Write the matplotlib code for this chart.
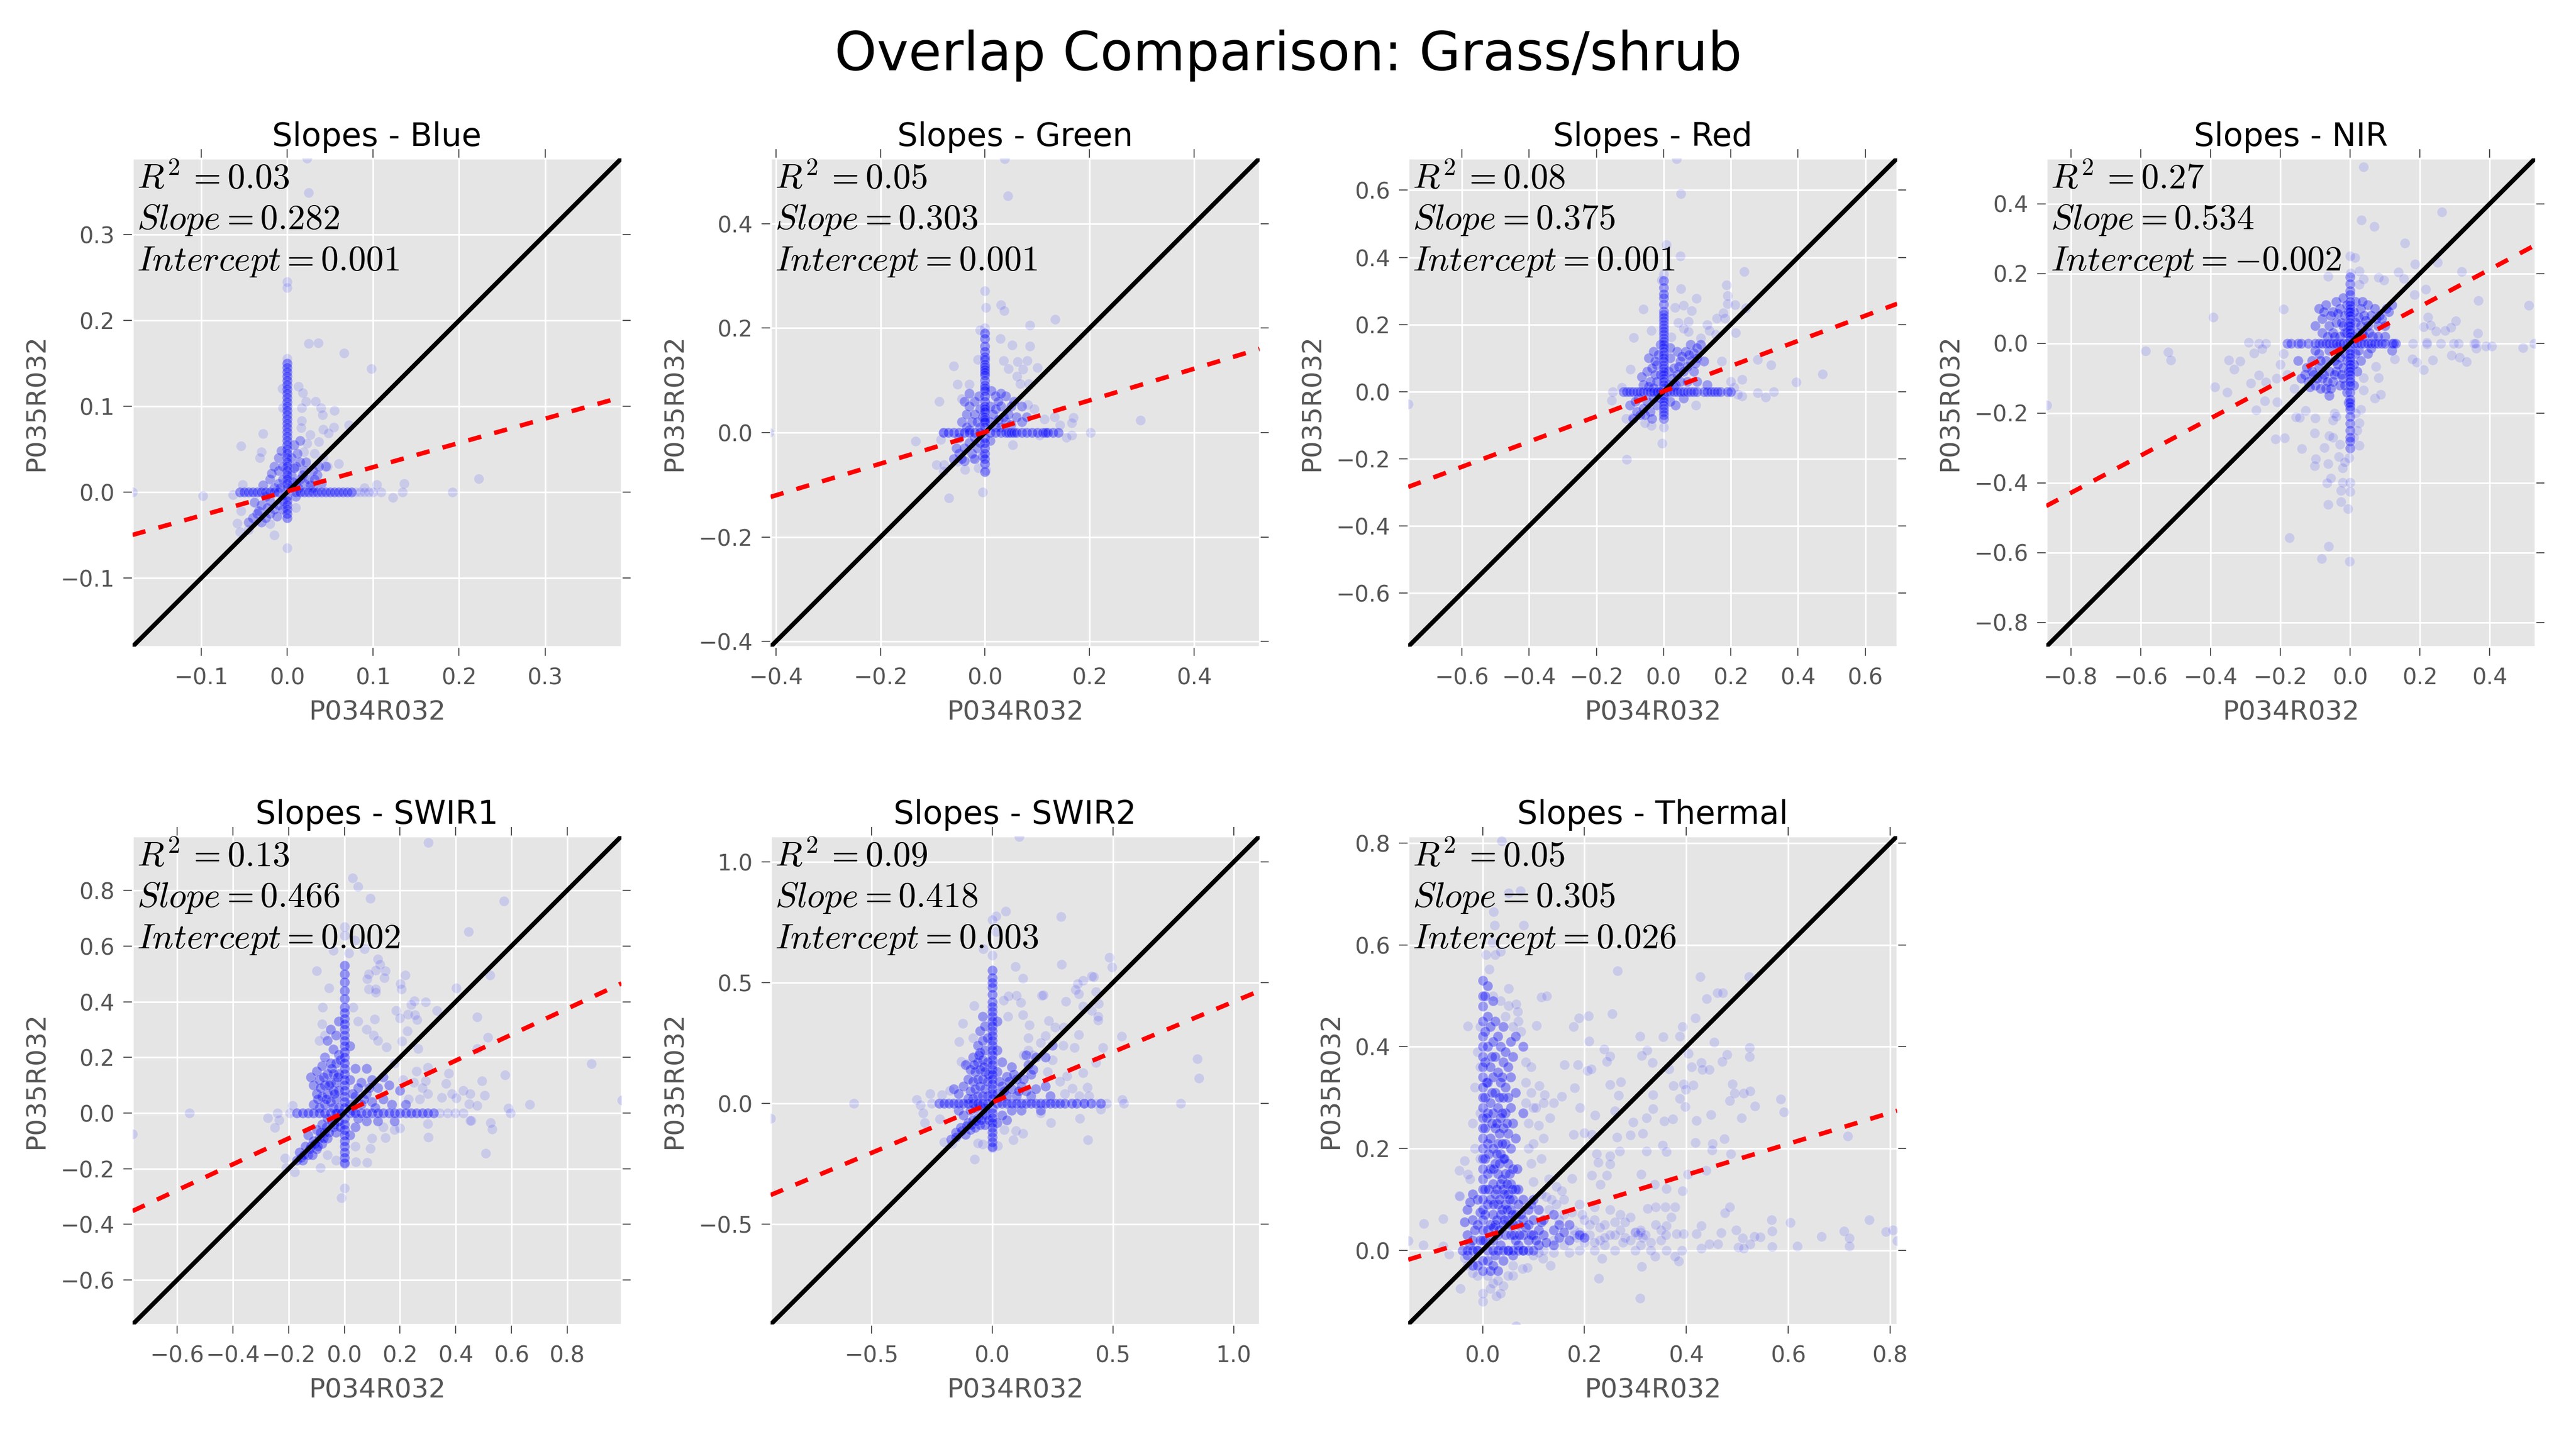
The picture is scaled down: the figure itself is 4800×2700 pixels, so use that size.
import numpy as np
import matplotlib
matplotlib.use('Agg')
import matplotlib.pyplot as plt

plt.rcParams['font.family'] = ['DejaVu Sans']
plt.rcParams['mathtext.fontset'] = 'cm'
plt.rcParams['lines.scale_dashes'] = False

# ======================== data ========================
bands = ['Blue', 'Green', 'Red', 'NIR', 'SWIR1', 'SWIR2', 'Thermal']
r2_vals = ['0.03', '0.05', '0.08', '0.27', '0.13', '0.09', '0.05']
slope_vals = [0.282, 0.303, 0.375, 0.534, 0.466, 0.418, 0.305]
intercept_vals = [0.001, 0.001, 0.001, -0.002, 0.002, 0.003, 0.026]
limits = [(-0.18, 0.389), (-0.41, 0.525), (-0.76, 0.695), (-0.87, 0.53),
          (-0.76, 0.995), (-0.917, 1.107), (-0.146, 0.814)]
tick_vals = [[-0.1, 0.0, 0.1, 0.2, 0.3],
             [-0.4, -0.2, 0.0, 0.2, 0.4],
             [-0.6, -0.4, -0.2, 0.0, 0.2, 0.4, 0.6],
             [-0.8, -0.6, -0.4, -0.2, 0.0, 0.2, 0.4],
             [-0.6, -0.4, -0.2, 0.0, 0.2, 0.4, 0.6, 0.8],
             [-0.5, 0.0, 0.5, 1.0],
             [0.0, 0.2, 0.4, 0.6, 0.8]]

# scattered single points
blue_pts = [(.023,.389),(.025,.349),(0,.245),(0,.238),(.025,.173),(.036,.174),(.066,.162),(.098,.144),(0,.156),
    (.223,.016),(.192,0),(.136,.01),(.134,0),(.123,-.006),(.109,0),(.104,.009),(.09,.005),(0,-.065),(-.015,-.05),
    (-.098,-.004),(-.18,0),(-.063,-.003),(-.054,.054),(-.028,.068),(-.03,.047),(-.032,.04),(-.052,.009),(-.054,-.022),
    (-.058,-.036),(-.055,-.046),(-.045,-.044),(-.02,-.037),(.01,-.018),(.013,.123),(.018,.116),(.022,.106),(.017,.098),
    (.033,.106),(.039,.098),(.041,.09),(.055,.095),(.017,.083),(.016,.075),(.042,.073),(.054,.076),(.072,.078),(.048,.069),
    (.027,.067),(.037,.059),(.023,.057),(.019,.047),(.032,.045),(.06,.033),(.047,.03),(.042,.04),(-.006,.121),(-.005,.098),
    (.08,0),(.085,0),(.09,0),(.095,0),(.1,0)]
green_pts = [(.037,.524),(.044,.453),(0,.271),(.002,.239),(.03,.244),(.036,.233),(.134,.217),(.086,.205),(0,.2),(-.01,.196),
    (.029,.18),(.052,.167),(.086,.165),(.035,.138),(.062,.136),(.081,.138),(.045,.122),(.072,.121),(.1,.124),(-.06,.127),
    (-.053,.092),(-.088,.06),(.061,.108),(.297,.024),(.202,0),(.169,.029),(.166,.018),(.166,-.005),(.156,-.009),(.143,.014),
    (.133,.03),(.113,.026),(.094,.045),(.082,.053),(.067,.093),(.084,.093),(.053,-.024),(.104,-.005),(-.133,-.016),(-.413,0),
    (-.069,-.125),(-.005,-.114),(.002,-.072),(-.038,-.071),(-.093,-.062),(-.078,-.062),(-.08,-.074),(-.052,-.056),(-.013,-.068),
    (-.023,-.049),(-.08,0),(-.085,-.013),(-.014,.14),(-.03,.092),(-.045,.065)]
red_pts = [(.038,.694),(.052,.59),(.009,.438),(.05,.404),(0,.35),(-.006,.332),(.051,.307),(.24,.357),(.187,.318),(.191,.285),
    (.19,.261),(.213,.259),(.245,.249),(.098,.277),(.06,.257),(.034,.25),(.083,.241),(-.061,.246),(.177,.234),(.159,.218),
    (.183,.218),(.13,.2),(.043,.206),(.073,.209),(.06,.188),(.073,.179),(.136,.182),(.215,.176),(.155,.17),(-.089,.161),
    (-.036,.182),(.022,.163),(.111,.16),(.172,.09),(.279,.096),(.32,.08),(-.099,.067),(.395,.029),(.473,.052),(.233,.037),
    (.327,0),(.28,-.004),(.304,-.017),(.233,-.013),(.096,-.04),(-.152,0),(-.154,-.026),(-.76,-.038),(-.11,-.202),(-.005,-.154),
    (0,-.106),(-.036,-.101),(-.112,-.08),(-.093,-.077),(-.055,-.093),(-.125,.013),(.21,.012),(.2,.03),(.22,-.008)]
nir_pts = [(.039,.506),(.263,.376),(.032,.353),(.069,.335),(.157,.287),(0,.25),(.014,.245),(.185,.227),(.251,.231),(.138,.204),
    (.32,.205),(.153,.186),(.082,.188),(.096,.181),(-.063,.192),(.002,.201),(.026,.207),(.038,.184),(.026,.168),(.217,.154),
    (.184,.139),(.367,.122),(.511,.109),(-.191,.098),(.223,.075),(.302,.064),(.231,.052),(.211,.047),(.288,.045),(.246,.034),
    (.272,.036),(-.392,.075),(-.586,-.022),(-.521,-.025),(-.514,-.048),(-.347,-.048),(-.315,-.052),(-.332,-.074),(-.29,.002),
    (-.276,-.029),(-.262,0),(-.242,0),(-.252,-.016),(-.262,-.091),(-.284,-.114),(-.241,-.111),(-.388,-.126),(-.352,-.14),
    (-.269,-.191),(-.244,-.166),(-.209,-.169),(-.868,-.178),(-.214,-.275),(-.187,-.272),(-.138,-.302),(-.156,-.211),(-.144,-.213),
    (-.127,-.193),(-.1,-.214),(-.102,-.258),(-.074,-.299),(-.099,-.332),(-.101,-.352),(-.063,-.346),(-.033,-.326),(-.021,-.358),
    (-.066,-.401),(-.055,-.387),(-.021,-.399),(0,-.399),(-.027,-.422),(0,-.426),(-.027,-.455),(-.063,-.463),(-.007,-.475),
    (-.174,-.558),(-.062,-.582),(-.082,-.618),(-.002,-.625),(.026,-.293),(-.004,-.328),(.026,-.228),(.07,-.158),(.087,-.147),
    (.038,-.134),(.082,-.099),(.038,-.099),(.073,-.067),(.128,-.046),(.178,-.046),(.19,-.055),(.211,-.076),(.237,-.048),(.29,-.034),
    (.313,-.04),(.333,-.053),(.366,.028),(.361,-.014),(.388,-.008),(.405,-.008),(.495,-.013),(.527,0),(.296,0),(.18,.0),(.22,.002),
    (.22,-.002),(.26,0),(.31,0),(.355,0),(.36,0),(-.19,-.03),(-.2,-.06),(-.21,-.1),(-.16,-.13),(-.18,-.09),(-.045,-.2),(-.05,-.22),
    (-.06,-.265),(-.05,-.27),(-.04,-.21),(-.03,-.29),(-.015,-.34),(.01,-.27),(.02,-.25),(.015,-.2),(.03,-.19)]
swir1_pts = [(.301,.972),(.03,.845),(.049,.814),(.093,.772),(.573,.761),(.445,.652),(0,.67),(0,.639),(.038,.621),(-.04,.585),
    (.073,.59),(.017,.575),(.12,.553),(.129,.535),(.113,.513),(.147,.511),(-.099,.511),(.218,.496),(.088,.5),(.081,.482),(.144,.486),
    (.088,.446),(.112,.446),(.112,.433),(.202,.465),(.206,.446),(.523,.495),(.401,.45),(.292,.399),(.251,.403),(.24,.39),(.333,.369),
    (.185,.368),(.2,.342),(.229,.354),(.253,.352),(.261,.336),(.109,.338),(.476,.345),(.516,.272),(.476,.232),(.226,.294),(.208,.259),
    (.264,.232),(.105,.279),(.151,.237),(-.078,.379),(-.054,.449),(.031,.379),(.888,.177),(.576,.136),(.494,.116),(.427,.08),(.374,.142),
    (.366,.106),(.299,.163),(.292,.116),(.452,.07),(.504,.063),(.401,.053),(.387,.069),(.349,.055),(.448,.032),(.476,.026),(.665,.031),
    (.589,.018),(.597,0),(.996,.047),(.525,-.035),(.53,-.058),(.455,-.028),(.507,-.144),(.301,-.086),(.299,-.039),(-.555,0),(-.76,-.075),
    (-.274,-.018),(-.239,0),(-.234,-.026),(-.25,-.053),(-.195,0),(-.186,.026),(0,-.27),(-.011,-.305),(.081,-.178),(.042,-.175),(.093,-.128),
    (.147,-.088),(-.086,-.197),(0,-.183),(-.178,-.213),(-.212,-.163),(-.209,-.197),(.2,-.055),(.37,0),(.342,0),(.398,0),(.427,-.001),(.452,-.028),
    (.18,.18),(.21,.12),(.25,.11),(.26,.15),(.28,.09),(.3,.07),(.23,.05),(.27,.05),(.12,.26),(.08,.3),(.05,.33),(-.08,.32),(-.07,.28),(-.09,.26),
    (.1,-.09),(.14,-.05),(.18,-.06),(.04,-.12),(-.03,-.17),(-.06,-.15)]
swir2_pts = [(.112,1.105),(.057,.796),(.284,.774),(.016,.776),(0,.759),(-.037,.639),(.016,.712),(0,.614),(.287,.575),(.484,.605),(.496,.565),
    (.096,.566),(.128,.517),(.411,.526),(.42,.524),(.376,.509),(.353,.495),(.346,.471),(.358,.452),(.429,.461),(.101,.447),(.067,.444),
    (.048,.427),(.204,.447),(.211,.449),(.305,.422),(.119,.418),(.441,.413),(.376,.401),(.411,.384),(.438,.359),(.438,.345),(.234,.342),
    (.128,.367),(.066,.359),(-.121,.33),(-.138,.255),(-.076,.405),(.154,.325),(.261,.316),(.296,.316),(.358,.284),(.535,.277),(.459,.231),
    (.34,.23),(.293,.24),(.849,.184),(.856,.104),(.376,.126),(.309,.112),(.429,.168),(.394,.066),(.332,.061),(.539,.014),(.544,0),(.78,0),
    (.473,0),(.449,-.024),(.363,-.063),(.397,-.151),(.243,-.08),(.128,-.126),(.098,-.114),(.087,-.151),(.023,-.177),(-.073,-.233),(0,-.185),
    (-.059,-.165),(-.573,0),(-.917,-.063),(-.312,.014),(-.298,-.007),(-.285,-.041),(-.28,-.08),(-.257,.039),(-.209,.036),(-.174,.053),
    (-.165,-.168),(-.2,-.16),(-.25,0),(-.218,-.066),(-.129,.172),(-.103,.163),(-.08,.27),(.15,.22),(.17,.2),(.13,.2),(.2,.25),(.25,.18),
    (.23,.13),(.28,.09),(.3,.04),(.36,.03),(.4,.03),(.43,0),(.38,0),(.2,-.04),(.05,-.11),(-.04,-.17),(-.14,-.13),(.22,.28),(.15,.27)]
thermal_pts = [(.037,.805),(.051,.702),(.074,.706),(.022,.665),(.024,.639),(.081,.639),(.019,.605),(.007,.581),(.025,.581),(.035,.587),
    (.013,.552),(.265,.549),(.427,.538),(.523,.538),(.051,.514),(.461,.506),(.471,.506),(.44,.494),(.115,.498),(.126,.5),(.066,.484),(.051,.481),
    (.069,.469),(.254,.465),(.208,.461),(.189,.456),(.418,.456),(.106,.442),(.179,.439),(.392,.439),(-.029,.441),(.309,.421),(.355,.419),(.387,.421),
    (.209,.411),(.455,.409),(.524,.398),(.239,.395),(.323,.393),(.25,.381),(.312,.383),(.244,.371),(.404,.387),(.48,.385),(.333,.369),(.429,.369),
    (.524,.38),(.161,.365),(.187,.365),(.206,.353),(.213,.356),(.366,.356),(.41,.36),(.431,.355),(.445,.355),(.47,.371),(.25,.326),(.271,.331),
    (.181,.319),(.111,.323),(.375,.323),(.395,.327),(.414,.324),(.491,.327),(.122,.306),(.155,.302),(.14,.29),(.267,.304),(.399,.316),(.387,.298),
    (.485,.294),(.495,.309),(.513,.309),(.525,.313),(.585,.297),(.535,.283),(.592,.272),(.398,.282),(.334,.306),(.334,.278),(.191,.28),(.26,.274),
    (.322,.26),(.132,.26),(.221,.265),(.448,.266),(.508,.26),(.357,.254),(.374,.258),(.42,.255),(.296,.252),(.315,.23),(.29,.226),(.717,.224),
    (.179,.227),(.2,.231),(.214,.227),(.264,.222),(.475,.219),(.418,.212),(.353,.206),(.452,.21),(.361,.194),(.322,.195),(.487,.19),(.45,.197),
    (.25,.185),(.269,.195),(.224,.19),(.227,.173),(.25,.169),(.214,.147),(.244,.147),(.311,.149),(.439,.157),(.403,.149),(.338,.129),(.361,.121),
    (.393,.117),(.231,.129),(.155,.117),(.175,.141),(.476,.073),(.485,.085),(.567,.06),(.604,.054),(.759,.06),(.71,.038),(.792,.036),(.806,.04),
    (.72,.024),(.814,.019),(.665,.027),(.72,.008),(.618,.008),(.568,.038),(.568,.007),(.545,.026),(.534,.027),(.51,.024),(.498,.04),(.502,.006),
    (.525,.012),(.513,.004),(.468,.034),(.462,.012),(.445,.012),(.429,.048),(.429,.004),(.42,.032),(.395,.032),(.381,.032),(.391,0),(.378,.085),
    (.37,.065),(.359,.085),(.34,.085),(.324,.082),(.361,.048),(.35,.04),(.339,-.012),(.385,-.022),(.378,-.012),(.361,0),(.312,-.032),(.309,-.094),
    (.228,-.055),(.234,-.016),(.133,-.03),(.118,-.016),(.088,-.034),(.078,-.036),(.066,-.149),(-.044,-.075),(.027,-.09),(0,-.101),(0,-.085),
    (-.115,.052),(-.078,.062),(-.116,.01),(-.146,.019),(-.078,.008),(-.066,-.008),(-.046,.157),(-.035,.176),(-.029,.149),(-.046,.107),(-.045,.106),
    (.12,.29),(.1,.28),(.085,.29),(.09,.25),(.12,.22),(.115,.18),(.095,.17),(.13,.14),(.16,.1),(.19,.09),(.22,.085),(.25,.08),(.27,.07),(.29,.065),
    (.2,.06),(.24,.05),(.15,.06),(.18,.04),(.21,.03),(.23,.02),(.26,.03),(.28,.025),(.3,.035),(.31,.04),(.32,.03),(.33,.015),(.35,.02),(.14,.02),
    (.16,.01),(.19,0),(.22,0),(.26,0),(.3,0),(.33,0),(.12,0),(.1,-.01),(.06,-.05),(.04,-.07),(.02,-.065),(.01,-.05),
    (.18,.03),(.185,.025),(.19,.035),(.195,.03),(.3,.035),(.305,.03),(.31,.035),(.315,.025),(.2,.015),(.22,.015),(.24,.01),(.25,.03),(.27,.04),(.275,.015),
    (.29,.02),(.31,.01),(.34,.05),(.36,.03),(.13,.08),(.145,.09),(.16,.07),(.175,.075),(.195,.07),(.21,.05),(.22,.06),(.23,.045),(.24,.025),(.26,.055),
    (.28,.055),(.115,.11),(.125,.105),(.135,.1),(.145,.125),(.1,.135),(.09,.2),(.1,.21),(.11,.245),(.095,.31),(.105,.28),(.085,.33),(.085,.37),(.095,.36),
    (.075,.43),(.07,.45),(.02,.5),(.035,.49),(.045,.46),(.06,.44),(-.01,.39),(-.015,.32),(-.02,.25),(-.015,.2),(-.025,.14),(-.005,.44),(-.005,.36),(-.005,.27),
    (-.005,.18),(.06,-.03),(.05,-.05),(.03,-.06),(.015,-.075),(.035,-.085),(-.01,-.05),(-.02,-.045),(-.03,-.03),(-.035,-.015),(.11,-.005),(.14,-.005),(.17,-.005)]

# dense arms: values sitting on x = 0 (spine) and y = 0 (arm)
blue_spine = [.15,.145,.14,.135,.13,.125,.12,.115,.11,.105,.1,.095,.09,.085,.08,.075,.07,.065,.06,.055,.05,.045,.04,.035,.03,.025,.02,.015,.01,.005,
    -.005,-.01,-.015,-.02,-.025,-.03]
blue_arm = [-.055,-.05,-.045,-.04,-.035,-.03,-.025,-.02,-.015,-.01,.01,.015,.02,.025,.03,.035,.04,.045,.05,.055,.06,.065,.07,.075]
green_spine = [.19,.18,.165,.155,.145,.14,.13,.125,.12,.115,.11,.1,.09,.085,.08,.07,.06,.05,.045,.04,.03,.025,.02,.01,-.01,-.02,-.03,-.04,-.05,-.06,-.075]
green_arm = [-.08,-.07,-.06,-.05,-.04,-.03,-.02,-.01,.01,.02,.03,.04,.045,.05,.055,.06,.07,.08,.09,.1,.11,.115,.12,.13,.14]
red_spine = [.33,.31,.29,.28,.26,.24,.23,.22,.21,.2,.19,.18,.17,.16,.15,.14,.13,.12,.11,.1,.09,.08,.07,.06,.05,.04,.03,.02,.01,-.01,-.02,-.03,-.04,-.05,-.06,-.07,-.08]
red_arm = [-.12,-.11,-.1,-.09,-.08,-.07,-.06,-.05,-.04,-.03,-.02,-.01,.01,.02,.03,.04,.05,.06,.07,.08,.09,.1,.12,.13,.14,.15,.16,.17,.19,.2]
nir_spine = [.19,.17,.15,.14,.12,.11,.1,.09,.08,.07,.06,.05,.04,.03,.02,.01,-.01,-.02,-.03,-.04,-.05,-.06,-.07,-.08,-.09,-.1,-.11,-.12,-.14,-.16,-.17,-.18,-.19,-.21,-.23,-.25,-.27,-.28,-.3]
nir_arm = [-.18,-.17,-.15,-.14,-.12,-.1,-.09,-.08,-.07,-.06,-.05,-.04,-.03,-.02,-.01,.01,.02,.03,.04,.05,.06,.07,.08,.09,.1,.12,.125,.13]
swir1_spine = [.53,.5,.47,.44,.41,.38,.36,.34,.32,.3,.28,.26,.24,.22,.2,.18,.16,.14,.12,.1,.08,.06,.04,.02,-.02,-.04,-.06,-.08,-.1,-.12,-.14,-.16,-.18]
swir1_arm = [-.17,-.15,-.13,-.11,-.09,-.07,-.05,-.03,-.01,.02,.04,.06,.08,.1,.12,.14,.16,.18,.2,.22,.24,.26,.28,.3,.32]
swir2_spine = [.55,.52,.5,.48,.45,.42,.4,.38,.36,.34,.32,.3,.28,.26,.24,.22,.2,.18,.16,.14,.12,.1,.08,.06,.04,.02,-.02,-.04,-.06,-.08,-.1,-.12,-.14,-.16,-.18]
swir2_arm = [-.22,-.2,-.18,-.16,-.14,-.12,-.1,-.08,-.06,-.04,-.02,.02,.04,.06,.08,.1,.12,.14,.16,.18,.2,.22,.24,.26,.28,.3,.33,.35,.38,.41,.45]
thermal_spine = [.53,.5,.48,.45,.42,.4,.38,.36,.34,.32,.3,.28,.26,.24,.22,.2,.18,.16,.14,.12,.1,.08,.06,.04,.02,-.02,-.04]
thermal_arm = [-.04,-.03,-.02,-.01,.01,.02,.03,.04,.05,.06,.07,.08,.09,.1]

# clouds round the origin
blue_core = [(-.04,-.03),(-.035,-.025),(-.03,-.035),(-.03,-.015),(-.025,-.03),(-.025,-.005),(-.02,-.025),(-.02,-.01),(-.02,.015),(-.015,-.02),
    (-.015,.005),(-.015,.03),(-.01,-.015),(-.01,.01),(-.01,.025),(-.01,.04),(-.005,-.01),(-.005,-.02),(-.005,.015),(-.005,.03),(.005,.005),(.005,.02),
    (.005,.04),(.01,.01),(.01,.03),(.01,-.005),(.015,.015),(.015,.035),(.02,.01),(.02,.025),(.025,.015),(.03,.005),(.03,.025),(.035,.02),(.04,.01),(.045,.03),
    (-.045,-.035),(-.038,-.012),(-.033,-.022),(-.028,.008),(-.023,-.018),(-.018,.022),(-.012,-.028),(-.008,.005),(-.007,.048),(.007,.012),(.008,.028),(.012,.045),
    (.013,.005),(.018,.02),(.022,.035),(.027,.008),(.032,.015),(.037,.03),(.008,.055),(.015,.06)]
green_core = [(-.06,-.05),(-.05,-.04),(-.05,-.01),(-.045,.02),(-.04,-.03),(-.04,-.055),(-.035,.01),(-.035,.035),(-.03,-.02),(-.03,.05),(-.025,.02),
    (-.025,-.04),(-.02,-.01),(-.02,.035),(-.02,.06),(-.015,.02),(-.015,-.03),(-.01,.045),(-.01,.01),(-.01,-.02),(-.005,.03),(-.005,-.045),(.01,.02),
    (.01,.05),(.01,-.015),(.015,.035),(.02,.01),(.02,.07),(.02,.045),(.025,.025),(.03,.05),(.03,.01),(.035,.03),(.04,.07),(.04,.02),(.05,.05),(.05,.015),(.06,.03),
    (-.055,-.03),(-.045,-.05),(-.03,.005),(-.02,-.05),(-.012,.07),(.012,.08),(.025,.06),(.03,.075),(.045,.035),(.055,.06),(.07,.05),(.07,.02),(.08,.03),(-.04,.06),(-.03,.075)]
red_core = [(-.09,-.08),(-.08,-.06),(-.075,-.02),(-.07,-.07),(-.06,-.05),(-.06,.02),(-.05,-.03),(-.05,.06),(-.045,.1),(-.04,-.06),(-.04,.03),(-.035,.07),
    (-.03,-.02),(-.03,.01),(-.03,.12),(-.025,.05),(-.02,-.04),(-.02,.03),(-.02,.08),(-.015,.11),(-.01,-.02),(-.01,.05),(-.01,.14),(.015,.02),(.015,.06),
    (.02,-.03),(.02,.1),(.025,.04),(.03,.07),(.035,.02),(.04,.05),(.04,.12),(.05,.09),(.05,.03),(.06,.06),(.065,.12),(.07,.03),(.08,.09),(.08,.14),(.09,.06),
    (.09,.115),(.1,.1),(.11,.14),(.12,.09),(.1,.03),(.13,.02),(.035,-.04),(.06,-.02),
    (-.1,-.04),(-.085,-.03),(-.065,.045),(-.055,-.07),(-.045,.015),(-.035,-.08),(-.025,.09),(-.015,.0),(.02,.13),(.03,.015),(.045,.075),(.055,.105),(.07,.075),(.075,.11),(.095,.085),(.1,.13)]
nir_core = [(-.13,-.09),(-.12,-.11),(-.11,-.05),(-.11,-.08),(-.1,.05),(-.1,-.12),(-.09,-.03),(-.09,-.07),(-.09,.1),(-.08,-.1),(-.08,.03),(-.08,.07),(-.07,-.05),
    (-.07,-.13),(-.07,.11),(-.06,-.08),(-.06,.05),(-.06,-.02),(-.06,-.15),(-.05,.09),(-.05,.03),(-.05,-.11),(-.045,-.05),(-.04,.12),(-.04,-.08),(-.04,.06),(-.03,.02),
    (-.03,-.12),(-.03,.1),(-.03,-.04),(-.02,.13),(-.02,.05),(-.02,-.07),(-.02,-.1),(-.015,.08),(-.01,.03),(-.01,.11),(-.01,-.05),(-.01,-.14),(.015,.12),(.015,.06),(.015,-.03),
    (.02,-.08),(.02,.03),(.03,.1),(.03,.05),(.03,-.05),(.04,.08),(.04,.02),(.05,.11),(.05,.05),(.05,-.03),(.06,.08),(.065,.02),(.07,.1),(.08,.05),(.09,.07),(.1,.02),(.11,.09),(.12,.11),(.12,-.02),
    (-.15,-.05),(-.14,-.1),(-.125,-.07),(-.115,-.125),(-.105,-.09),(-.1,-.02),(-.095,-.1),(-.085,-.13),(-.085,-.05),(-.075,-.09),(-.075,.09),(-.065,-.11),(-.065,.02),(-.055,-.13),(-.055,.08),
    (-.045,.02),(-.045,-.09),(-.035,.085),(-.035,-.01),(-.035,-.06),(-.025,.06),(-.025,-.09),(-.015,.03),(-.015,-.03),(-.015,-.12),(-.005,.09),(-.005,.05),(-.005,-.08),(-.005,-.17),(.01,.09),
    (.01,.02),(.01,-.06),(.01,-.12),(.025,.075),(.025,-.02),(.035,.03),(.035,.12),(.045,.065),(.055,.03),(.06,-.015),(.075,.07),(.085,.08),(.1,.05),(.105,.1),(.08,.02)]
swir1_core = [(-.17,-.17),(-.16,-.14),(-.15,-.17),(-.14,-.12),(-.13,-.15),(-.13,-.08),(-.12,-.12),(-.12,.13),(-.11,-.1),(-.11,.03),(-.11,.1),(-.1,-.13),(-.1,-.06),(-.1,.07),
    (-.1,.15),(-.09,-.09),(-.09,.02),(-.09,.12),(-.08,-.11),(-.08,-.04),(-.08,.06),(-.08,.17),(-.07,-.07),(-.07,.03),(-.07,.1),(-.07,.2),(-.06,-.09),(-.06,-.02),(-.06,.07),(-.06,.14),
    (-.06,.26),(-.05,.04),(-.05,.11),(-.05,.18),(-.05,.3),(-.04,-.05),(-.04,.02),(-.04,.08),(-.04,.14),(-.04,.23),(-.03,-.07),(-.03,.05),(-.03,.11),(-.03,.18),(-.03,.28),(-.02,-.03),
    (-.02,.02),(-.02,.08),(-.02,.14),(-.02,.21),(-.02,.33),(.02,.03),(.02,-.08),(.02,.12),(.02,.24),(.04,.06),(.04,-.05),(.04,.16),(.06,.03),(.06,.11),(.08,.07),(.08,-.03),(.08,.16),(.1,.04),
    (.1,.12),(.12,.09),(.12,-.03),(.14,.05),(.14,.13),(.16,.1),(.17,.03),(.2,.08),(.22,.03),(.18,-.03),
    (-.155,-.16),(-.145,-.15),(-.125,-.13),(-.115,-.15),(-.105,-.11),(-.095,-.12),(-.085,-.07),(-.075,-.09),(-.065,-.05),(-.055,-.07),(-.045,-.03),(-.035,-.04),(-.025,.0),(-.015,-.05),
    (-.095,.05),(-.085,.09),(-.075,.13),(-.065,.05),(-.055,.1),(-.045,.16),(-.035,.07),(-.025,.13),(-.015,.19),(.03,.07),(.05,.09),(.07,.05),(.09,.09),(.03,.01),(.05,-.02),(.11,.02)]
swir2_core = [(-.17,-.15),(-.16,.06),(-.15,-.12),(-.14,-.03),(-.14,.04),(-.13,-.1),(-.12,.07),(-.12,-.05),(-.11,-.13),(-.11,.16),(-.1,-.08),(-.1,.02),(-.1,.1),(-.09,-.11),(-.09,-.03),
    (-.09,.05),(-.09,.14),(-.08,-.07),(-.08,.02),(-.08,.09),(-.08,.19),(-.07,-.1),(-.07,-.02),(-.07,.06),(-.07,.13),(-.06,-.06),(-.06,.03),(-.06,.1),(-.06,.17),(-.06,.24),(-.05,-.09),(-.05,-.01),
    (-.05,.07),(-.05,.14),(-.05,.21),(-.05,.3),(-.04,-.05),(-.04,.03),(-.04,.1),(-.04,.18),(-.04,.26),(-.04,.36),(-.03,-.09),(-.03,-.02),(-.03,.06),(-.03,.13),(-.03,.22),(-.03,.32),(-.02,.03),
    (-.02,.09),(-.02,.17),(-.02,.27),(.02,.04),(.02,-.08),(.02,.13),(.02,.22),(.02,.34),(.04,.07),(.04,-.05),(.04,.17),(.06,.03),(.06,.11),(.06,-.07),(.08,.06),(.08,.15),(.08,-.03),(.1,.1),(.1,.03),
    (.12,.07),(.12,-.03),(.14,.05),(.14,.2),(.16,.03),(.16,.12),(.18,.06),(.18,.19),(.2,-.03),(.22,.07),(.22,.19),(.24,.03),(.25,.24),
    (-.15,-.14),(-.125,-.115),(-.105,-.095),(-.085,-.09),(-.065,-.075),(-.045,-.07),(-.025,-.05),(-.015,-.07),(-.075,.16),(-.055,.2),(-.035,.15),(-.015,.12),(.03,.09),(.05,.05),(.07,.09),(.09,.12),(.11,.05),(.13,.1),(.15,.16),(.17,.14)]
thermal_core = [(-.03,.08),(-.03,.03),(-.03,-.01),(-.02,.11),(-.02,.06),(-.02,.02),(-.02,-.03),(-.01,.1),(-.01,.05),(-.01,0),(-.01,-.03),(.005,.5),(.005,.43),(.005,.37),(.005,.3),(.005,.24),(.005,.18),(.005,.12),
    (.01,.52),(.01,.46),(.01,.4),(.01,.33),(.01,.27),(.01,.21),(.01,.15),(.01,.09),(.01,.04),(.01,-.02),(.015,.44),(.015,.36),(.015,.29),(.015,.22),(.015,.16),(.015,.1),(.015,.05),(.015,-.04),
    (.02,.49),(.02,.41),(.02,.34),(.02,.27),(.02,.2),(.02,.13),(.02,.07),(.02,.02),(.02,-.03),(.025,.45),(.025,.38),(.025,.31),(.025,.24),(.025,.17),(.025,.11),(.025,.05),(.025,-.01),
    (.03,.42),(.03,.35),(.03,.28),(.03,.21),(.03,.15),(.03,.09),(.03,.03),(.03,-.04),(.035,.4),(.035,.33),(.035,.26),(.035,.19),(.035,.13),(.035,.07),(.035,.01),(.04,.44),(.04,.37),(.04,.3),(.04,.24),(.04,.18),
    (.04,.12),(.04,.05),(.04,-.02),(.045,.39),(.045,.32),(.045,.27),(.045,.21),(.045,.15),(.045,.09),(.045,.03),(.05,.36),(.05,.3),(.05,.23),(.05,.17),(.05,.11),(.05,.06),(.05,0),(.055,.41),(.055,.34),(.055,.28),
    (.055,.2),(.055,.13),(.055,.08),(.055,.03),(.06,.38),(.06,.25),(.06,.16),(.06,.1),(.06,.05),(.06,-.01),(.065,.42),(.065,.31),(.065,.22),(.065,.12),(.065,.07),(.065,.02),(.07,.12),(.07,.09),(.07,.05),(.07,.01),
    (.08,.4),(.08,.27),(.08,.1),(.08,.06),(.08,.03),(.08,0),(.09,.08),(.09,.05),(.09,.02),(.1,.1),(.1,.06),(.1,.03),(.11,.08),(.11,.04),(.11,.01),(.12,.06),(.12,.03),(.14,.07),(.14,.04),(.14,.01),(.17,.05),(.17,.02),(.19,.03),(.2,.025),
    (-.035,.055),(-.025,.095),(-.025,.01),(-.015,.04),(-.005,.075),(-.005,.02),(.005,.07),(.005,.02),(.008,.33),(.008,.26),(.012,.19),(.012,.12),(.018,.25),(.018,.31),(.018,.38),(.022,.16),(.022,.09),(.022,.045),
    (.028,.25),(.028,.19),(.028,.12),(.028,.06),(.033,.3),(.033,.23),(.033,.17),(.033,.1),(.033,.04),(.038,.34),(.038,.27),(.038,.21),(.038,.14),(.038,.08),(.043,.18),(.043,.11),(.043,.06),(.048,.25),(.048,.13),(.048,.08),
    (.053,.15),(.053,.1),(.053,.05),(.058,.12),(.058,.07),(.062,.03),(.068,.16),(.072,.03),(.075,.07),(.085,.045),(.095,.09),(.095,.03),(.105,.02),(.115,.055),(.125,.015),(.15,.05),(.15,.025),(.16,.035)]

scatter_pts = [blue_pts, green_pts, red_pts, nir_pts, swir1_pts, swir2_pts, thermal_pts]
spines_y = [blue_spine, green_spine, red_spine, nir_spine, swir1_spine, swir2_spine, thermal_spine]
arms_x = [blue_arm, green_arm, red_arm, nir_arm, swir1_arm, swir2_arm, thermal_arm]
core_pts = [blue_core, green_core, red_core, nir_core, swir1_core, swir2_core, thermal_core]

# ======================== layout in pixels ========================
W, H = 4800.0, 2700.0
panel_left = [247, 1436, 2624, 3813]
panel_top = [295, 1558]
panel_w, panel_h = 911, 910
core_alpha = [0.3, 0.32, 0.32, 0.34, 0.34, 0.34, 0.36]
spine_alpha = [0.38, 0.38, 0.34, 0.34, 0.38, 0.38, 0.34]


def dots(ax, x, y, alpha):
    # edge stays faint whatever the fill, so dense runs do not look like beads
    ax.scatter(x, y, s=20, facecolors=(0, 0, 1, alpha), edgecolors=(1, 1, 1, 0.12), linewidths=0.5, zorder=3)


def draw_panel(ax, i):
    lo, hi = limits[i]
    pts = np.array(scatter_pts[i])
    core = np.array(core_pts[i])
    spine_y = np.array(spines_y[i])
    arm_x = np.array(arms_x[i])

    dots(ax, pts[:, 0], pts[:, 1], 0.12)
    dots(ax, core[:, 0], core[:, 1], core_alpha[i])
    dots(ax, np.zeros(len(spine_y)), spine_y, spine_alpha[i])
    dots(ax, arm_x, np.zeros(len(arm_x)), spine_alpha[i])

    ax.plot([lo, hi], [lo, hi], color='black', linewidth=2, zorder=4)
    fit_x = np.array([lo, hi])
    ax.plot(fit_x, slope_vals[i] * fit_x + intercept_vals[i], color='red', linewidth=2,
            dashes=(6, 6), zorder=5)

    ax.set_xlim(lo, hi)
    ax.set_ylim(lo, hi)
    ax.set_xticks(tick_vals[i])
    ax.set_yticks(tick_vals[i])
    ax.set_facecolor('#E5E5E5')
    ax.set_axisbelow(True)
    ax.grid(True, color='white', linestyle='-', linewidth=0.75)
    ax.tick_params(direction='out', top=True, right=True, length=4, width=0.5,
                   color='#555555', labelcolor='#555555', labelsize=10)
    ax.tick_params(axis='x', pad=5)
    ax.tick_params(axis='y', pad=4)
    for s in ax.spines.values():
        s.set_color('white')
    ax.set_xlabel('P034R032', fontsize=12, color='#555555', labelpad=4.5)
    ax.set_ylabel('P035R032', fontsize=12, color='#555555', labelpad=5)
    ax.set_title('Slopes - ' + bands[i], fontsize=14.4, color='black', pad=5.5)

    label = '$R^2\\,=%s$\n$Slope=%.3f$\n$Intercept=%.3f$' % (r2_vals[i], slope_vals[i], intercept_vals[i])
    ax.text(0.009, 0.993, label, transform=ax.transAxes, fontsize=15.8, va='top', ha='left',
            color='black', zorder=6, linespacing=1.24)


fig = plt.figure(figsize=(16, 9), dpi=300)
for i in range(len(bands)):
    col = i % 4
    row = i // 4
    ax = fig.add_axes([panel_left[col] / W, 1 - (panel_top[row] + panel_h) / H, panel_w / W, panel_h / H])
    draw_panel(ax, i)

fig.text(2400 / W, 1 - 104 / H, 'Overlap Comparison: Grass/shrub', fontsize=24, ha='center', va='center')
fig.savefig('out.png', dpi=300, facecolor='white')
